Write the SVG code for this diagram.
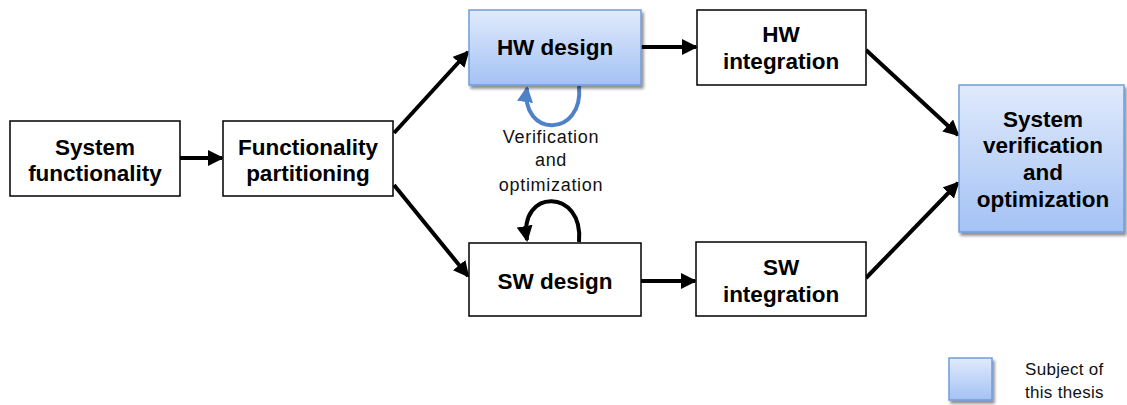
<svg xmlns="http://www.w3.org/2000/svg" width="1127" height="405" viewBox="0 0 1127 405">
<defs>
<linearGradient id="blueGrad" x1="0" y1="0" x2="0" y2="1">
<stop offset="0" stop-color="#e0eafc"/>
<stop offset="1" stop-color="#a4c2f4"/>
</linearGradient>
<filter id="shadow" x="-10%" y="-10%" width="130%" height="130%">
<feGaussianBlur in="SourceAlpha" stdDeviation="1.5"/>
<feOffset dx="2" dy="3" result="o"/>
<feComponentTransfer><feFuncA type="linear" slope="0.45"/></feComponentTransfer>
<feMerge><feMergeNode/><feMergeNode in="SourceGraphic"/></feMerge>
</filter>
<marker id="ah" markerUnits="userSpaceOnUse" markerWidth="16" markerHeight="16" refX="14" refY="8" orient="auto">
<path d="M0,0 L16,8 L0,16 Z" fill="#000"/>
</marker>
<marker id="ahb" markerUnits="userSpaceOnUse" markerWidth="16" markerHeight="16" refX="14" refY="8" orient="auto">
<path d="M0,0 L16,8 L0,16 Z" fill="#4f81c9"/>
</marker>
</defs>
<style>
.box{fill:#fff;stroke:#000;stroke-width:1.5}
.blue{fill:url(#blueGrad);stroke:#6f9ddb;stroke-width:1.5;filter:url(#shadow)}
.lbl{font-family:"Liberation Sans",Arial,sans-serif;font-weight:bold;font-size:22.5px;fill:#000;text-anchor:middle}
.note{font-family:"Liberation Sans",Arial,sans-serif;font-size:18px;fill:#111;text-anchor:middle;letter-spacing:0.7px}
.leg{font-family:"Liberation Sans",Arial,sans-serif;font-size:17px;fill:#111;letter-spacing:0.3px}
.c{fill:none;stroke:#000;stroke-width:4}
</style>
<g id="connectors">
<line class="c" x1="180" y1="158" x2="222" y2="158" marker-end="url(#ah)"/>
<line class="c" x1="394" y1="133" x2="468" y2="52" marker-end="url(#ah)"/>
<line class="c" x1="394" y1="185" x2="468" y2="276" marker-end="url(#ah)"/>
<line class="c" x1="641" y1="47" x2="696" y2="47" marker-end="url(#ah)"/>
<line class="c" x1="641" y1="281" x2="695" y2="281" marker-end="url(#ah)"/>
<line class="c" x1="866" y1="50" x2="958" y2="135" marker-end="url(#ah)"/>
<line class="c" x1="866" y1="278" x2="958" y2="183" marker-end="url(#ah)"/>
<path d="M579,86 C584,138 520,138 527,88" fill="none" stroke="#4f81c9" stroke-width="4" marker-end="url(#ahb)"/>
<path d="M579,242 C584,188 518,188 527,240" class="c" marker-end="url(#ah)"/>
</g>
<g id="system-functionality">
<rect class="box" x="10" y="121" width="170" height="75"/>
<text class="lbl" x="95" y="155">System</text>
<text class="lbl" x="95" y="181">functionality</text>
</g>
<g id="functionality-partitioning">
<rect class="box" x="223" y="121" width="170" height="75"/>
<text class="lbl" x="308" y="155">Functionality</text>
<text class="lbl" x="308" y="181">partitioning</text>
</g>
<g id="hw-design">
<rect class="blue" x="469" y="10" width="172" height="75"/>
<text class="lbl" x="555" y="55">HW design</text>
</g>
<g id="hw-integration">
<rect class="box" x="697" y="10" width="169" height="75"/>
<text class="lbl" x="781" y="42">HW</text>
<text class="lbl" x="781" y="69">integration</text>
</g>
<g id="sw-design">
<rect class="box" x="469" y="243" width="172" height="73"/>
<text class="lbl" x="555" y="289">SW design</text>
</g>
<g id="sw-integration">
<rect class="box" x="696" y="242" width="170" height="74"/>
<text class="lbl" x="781" y="275">SW</text>
<text class="lbl" x="781" y="302">integration</text>
</g>
<g id="system-verification">
<rect class="blue" x="959" y="85" width="165" height="147"/>
<text class="lbl" x="1043" y="127">System</text>
<text class="lbl" x="1043" y="153">verification</text>
<text class="lbl" x="1043" y="180">and</text>
<text class="lbl" x="1043" y="207">optimization</text>
</g>
<g id="loop-label">
<text class="note" x="551" y="143">Verification</text>
<text class="note" x="551" y="166">and</text>
<text class="note" x="551" y="191">optimization</text>
</g>
<g id="legend">
<rect class="blue" x="949" y="358" width="43" height="42"/>
<text class="leg" x="1025" y="375">Subject of</text>
<text class="leg" x="1025" y="398">this thesis</text>
</g>
</svg>
